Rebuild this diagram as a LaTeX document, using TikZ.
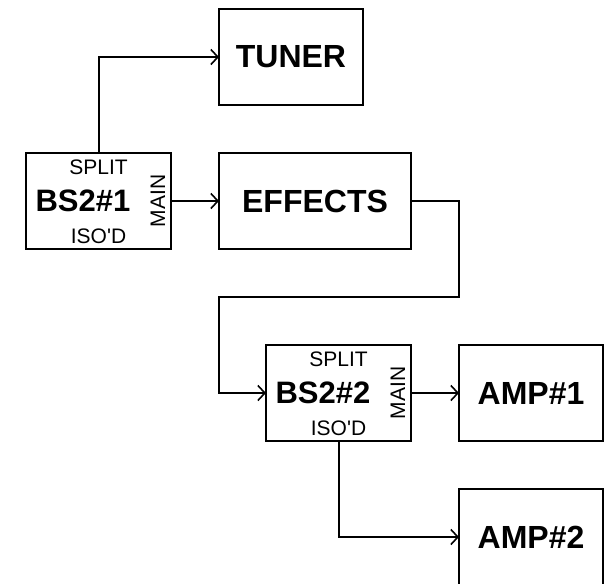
\documentclass[tikz,border=0pt]{standalone}
\usepackage{fontspec}
\setmainfont{Liberation Sans}
\usetikzlibrary{positioning, arrows.meta}

\tikzset{
  box/.style={draw, rectangle, minimum width=144pt, minimum height=96pt, inner sep=0pt, outer sep=0pt, font=\fontsize{32}{36}\selectfont\bfseries},
  splitter/.style={box, minimum width=145pt},
  tag/.style={inner sep=0pt, font=\fontsize{21}{24}\selectfont},
  big/.style={inner sep=0pt, font=\fontsize{31}{36}\selectfont\bfseries}
}

\begin{document}
\begin{tikzpicture}[->, >={Straight Barb[length=7pt,width=15pt,line width=1.6pt]}, line width=2pt, x=1pt, y=-1pt]
\useasboundingbox (0,0) rectangle (606,584);
% Bloques
\node[splitter] (bs1) at (98.5,201) {};
\node[box, minimum width=192pt, right=48pt of bs1] (effects) {EFFECTS};
\node[box, above right=48pt and 0pt of effects.north west] (tuner) {TUNER};
\node[splitter, below left=96pt and 0pt of effects.south east] (bs2) {};
\node[box, right=48pt of bs2] (amp1) {AMP\#1};
\node[box, below=48pt of amp1] (amp2) {AMP\#2};

% Textos de los divisores
\node[big] (bs1name) at ([xshift=-15.5pt]bs1.center) {BS2\#1};
\node[tag] (bs1split) at ([yshift=-14.5pt]bs1.north) {SPLIT};
\node[tag] (bs1iso) at ([yshift=-83pt]bs1.north) {ISO\textquotesingle D};
\node[tag, rotate=90] (bs1main) at ([xshift=59.5pt]bs1.center) {MAIN};
\node[big] (bs2name) at ([xshift=-15.5pt]bs2.center) {BS2\#2};
\node[tag] (bs2split) at ([yshift=-14.5pt]bs2.north) {SPLIT};
\node[tag] (bs2iso) at ([yshift=-83pt]bs2.north) {ISO\textquotesingle D};
\node[tag, rotate=90] (bs2main) at ([xshift=59.5pt]bs2.center) {MAIN};

% Conexiones
\coordinate[below=48pt of effects.south] (loop);
\draw (bs1.north) |- (tuner.west);
\draw (bs1.east) -- (effects.west);
\draw (effects.east) -| (amp1.west |- loop) -- (effects.west |- loop) |- (bs2.west);
\draw (bs2.east) -- (amp1.west);
\draw (bs2.south) |- (amp2.west);
\end{tikzpicture}
\end{document}
